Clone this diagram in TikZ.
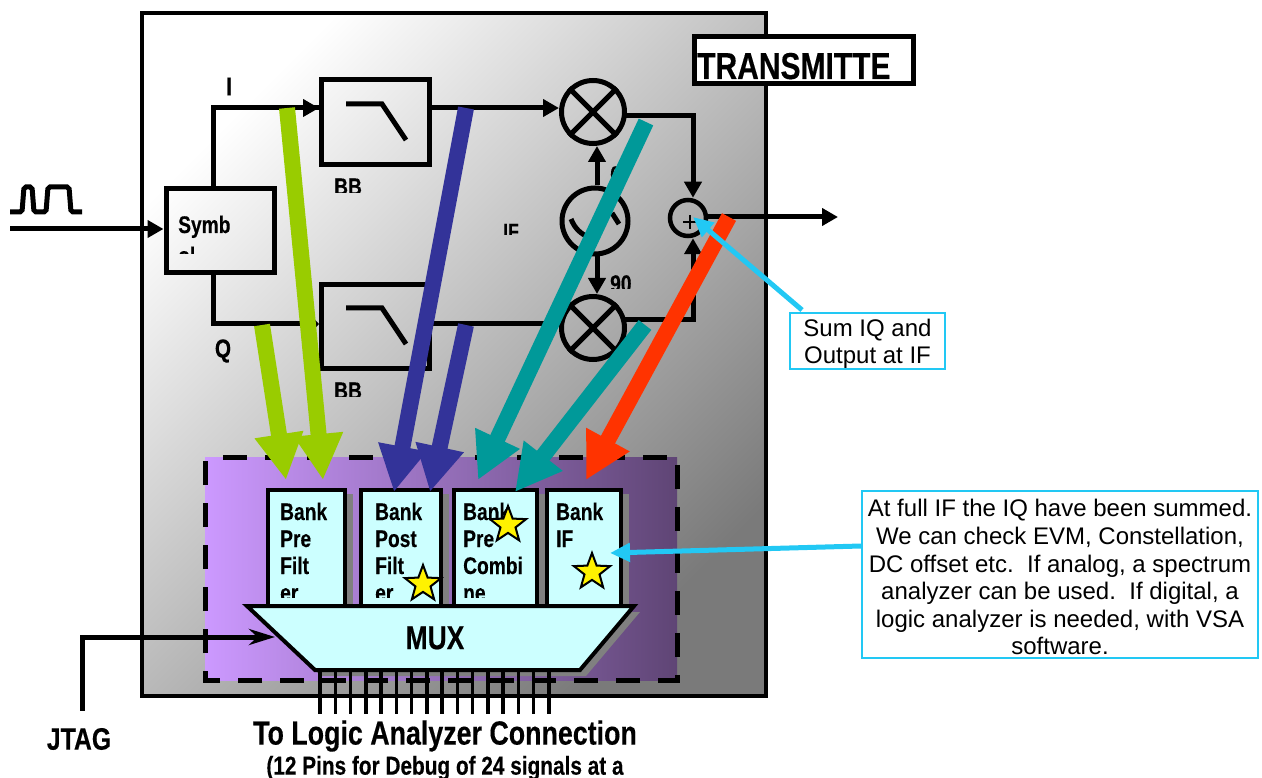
\documentclass[tikz,border=0pt]{standalone}
\usepackage{fontspec}
\setmainfont{Liberation Sans}
\newfontfamily\narrowfont[FakeStretch=0.8,FakeBold=0.3]{Liberation Sans Bold}
\usetikzlibrary{arrows.meta,shapes.geometric}
\newcommand{\labelsize}[1]{\fontsize{#1}{#1}\selectfont\narrowfont}
\tikzset{
wire/.style={line width=5pt},
wirearrow/.style={wire,-{Triangle[length=16pt,width=17pt]}},
blockbox/.style={draw,wire,inner sep=0pt},
mixer/.style={circle,draw,wire,inner sep=0pt,minimum size=63pt},
bankbox/.style={draw,line width=4pt,fill=bankcyan,inner sep=0pt,anchor=north west},
biglabel/.style={inner sep=0pt,font=\labelsize{26}},
banktext/.style={inner sep=0pt,anchor=base west,font=\labelsize{24}},
probe/.style={line width=16pt,-{Triangle[length=46pt,width=46pt]}},
note/.style={draw=notecyan,line width=2pt,fill=white,inner sep=0pt,align=center,font=\fontsize{24}{27.6}\selectfont},
notearrow/.style={color=notecyan,line width=5pt,-{Triangle[length=20pt,width=18pt]}},
goldstar/.style={star,star points=5,star point ratio=2.4,draw,line width=2pt,fill=yellow,inner sep=0pt,minimum size=38pt}
}
\definecolor{bankcyan}{HTML}{CCFFFF}
\definecolor{notecyan}{HTML}{22C8F4}
\definecolor{probegreen}{HTML}{99CC00}
\definecolor{probeblue}{HTML}{333399}
\definecolor{probeteal}{HTML}{009999}
\definecolor{probered}{HTML}{FF3300}
\definecolor{dutleft}{HTML}{CC99FF}
\definecolor{dutright}{HTML}{5F4575}
\begin{document}
\begin{tikzpicture}
[x=1pt,y=-1pt]
\useasboundingbox (0,0) rectangle (1262,778);

% outer block
\fill[left color=white,right color=black!52,shading angle=45] (142,13) rectangle (766,696);
\draw[line width=4pt] (142,13) rectangle (766,696);
\node[draw,line width=5pt,fill=white,minimum width=219pt,minimum height=47pt,inner sep=0pt] (title) at (804,60) {};
\node[inner sep=0pt,anchor=base west,font=\labelsize{37.5}] (titletext) at (697,79) {TRANSMITTE};

% signal path
\node[blockbox,minimum width=108pt,minimum height=84pt] (symbol) at (220,230.5) {};
\node[blockbox,minimum width=108pt,minimum height=85pt] (lpfi) at (375.5,122) {};
\node[blockbox,minimum width=108pt,minimum height=84pt] (lpfq) at (375.5,326.5) {};
\node[mixer] (mixi) at (593,112) {};
\node[mixer] (mixq) at (593,328) {};
\node[mixer,minimum size=66pt] (osc) at (595,221) {};
\node[circle,draw,line width=4.5pt,inner sep=0pt,minimum size=36pt] (sum) at (688,218) {};
\draw[wire] (mixi.45) -- (mixi.225);
\draw[wire] (mixi.135) -- (mixi.315);
\draw[wire] (mixq.45) -- (mixq.225);
\draw[wire] (mixq.135) -- (mixq.315);

\coordinate (in) at (10,229);
\coordinate (out) at (838,217);
\coordinate (iup) at (213,108);
\coordinate (qdown) at (213,324);
\coordinate (icorner) at (693,116);
\coordinate (qcorner) at (693,320);
\coordinate (oscaxis) at (597,221);

\draw[wirearrow] (in) -- (in -| symbol.west);
\draw[wire,line cap=rect] (symbol.north -| iup) -- (iup) -- (iup -| lpfi.west);
\draw[wirearrow] (iup) -- (iup -| lpfi.west);
\draw[wire,line cap=rect] (symbol.south -| qdown) -- (qdown);
\draw[wire,-{Triangle[length=5pt,width=10pt]}] (qdown) -- (qdown -| lpfq.west);
\draw[wirearrow] (lpfi.east |- iup) -- (iup -| mixi.west);
\draw[wire] (lpfq.east |- qdown) -- (qdown -| mixq.west);
\draw[wire,line cap=rect] (mixi.east |- icorner) -- (icorner);
\draw[wirearrow] (icorner) -- (icorner |- sum.north);
\draw[wire,line cap=rect] (mixq.east |- qcorner) -- (qcorner);
\draw[wirearrow] (qcorner) -- (qcorner |- sum.south);
\draw[wirearrow] (sum.east |- out) -- (out);
\draw[wirearrow] (osc.north -| oscaxis) -- (oscaxis |- mixi.south);
\draw[wirearrow] (osc.south -| oscaxis) -- (oscaxis |- mixq.north);

% filter and oscillator glyphs
\draw[wire] (346,104) -- (382,104) -- (406,140);
\draw[wire] (346,308) -- (382,308) -- (406,344);
\draw[wire] (571,219) .. controls (575,229) and (581,234) .. (590,238);
\draw[wire] (612,213) -- (619,224);
\draw[line width=2pt] (683,222) -- (697,222) (690,215) -- (690,229);
\draw[wire,rounded corners=2pt] (10,212) -- (22,212) -- (24,187) -- (32,187) -- (34,212) -- (46,212) -- (48,187) -- (69,187) -- (71,212) -- (82,212);

% labels, some of them cut off
\node[biglabel] (ilabel) at (229,86.5) {I};
\node[biglabel] (qlabel) at (223,351) {Q};
\begin{scope}
\clip (170,190) rectangle (270,254);
\node[banktext] (symb) at (178,233) {Symb};
\node[banktext] (ol) at (178,264) {ol};
\end{scope}
\begin{scope}
\clip (320,176) rectangle (380,193);
\node[banktext] (bbi) at (334,195) {BB};
\end{scope}
\begin{scope}
\clip (320,380) rectangle (380,396);
\node[banktext] (bbq) at (334,399) {BB};
\end{scope}
\begin{scope}
\clip (495,220) rectangle (530,235);
\node[banktext,font=\labelsize{22}] (iflabel) at (503,239) {IF};
\end{scope}
\begin{scope}
\clip (605,272) rectangle (640,289);
\node[banktext] (ninety) at (610,292) {90};
\end{scope}
\node[banktext] (zero) at (610,183) {0};

% debug block
\shade[left color=dutleft,right color=dutright] (205,457) rectangle (677,680);
\draw[line width=5pt,dash pattern=on 24pt off 18pt,dash phase=24pt] (205,457) -- (677,457) -- (677,680) -- (205,680) -- cycle;

\foreach \name/\xa/\wid in {bi/266/77,bq/359/80,bc/452/83,bf/545/74}{
\fill[black!50] (\xa+7,494) rectangle (\xa+\wid+10,610);
\node[bankbox,minimum width=\wid pt,minimum height=118pt] (\name) at (\xa,488) {};
}
\foreach \xt/\ya/\yb/\yc/\yd/\nm in {280/Bank/Pre/Filt/er/a,375/Bank/Post/Filt/er/b,463/Bank/Pre/Combi/ne/c}{
\node[banktext] (text\nm a) at (\xt,520) {\ya};
\node[banktext] (text\nm b) at (\xt,547) {\yb};
\node[banktext] (text\nm c) at (\xt,574) {\yc};
\begin{scope}
\clip (\xt-5,580) rectangle (\xt+60,597);
\node[banktext] (text\nm d) at (\xt,601) {\yd};
\end{scope}
}
\node[banktext] (textda) at (556,520) {Bank};
\node[banktext] (textdb) at (556,547) {IF};

% mux with pins
\fill[black!50] (253,612) -- (640,612) -- (586,676) -- (321,676) -- cycle;
\foreach \i in {0,...,15}{
\draw[line width=3.5pt] (320+15.25*\i,670) -- (320+15.25*\i,714);
}
\draw[line width=4pt,fill=bankcyan] (247,606) -- (634,606) -- (580,670) -- (315,670) -- cycle;
\node[inner sep=0pt,font=\labelsize{33}] (mux) at (435,638) {MUX};

% probe arrows
\coordinate (greena) at (287,108);
\coordinate (greenb) at (262,325);
\coordinate (bluea) at (466,108);
\coordinate (blueb) at (466,325);
\coordinate (teala) at (646,122);
\coordinate (tealb) at (645,325);
\coordinate (reda) at (729,217);
\draw[probe,color=probegreen] (greena) -- (323,480);
\draw[probe,color=probegreen] (greenb) -- (286,480);
\draw[probe,color=probeblue] (bluea) -- (394,492);
\draw[probe,color=probeblue] (blueb) -- (430,492);
\draw[probe,color=probeteal] (teala) -- (478,480);
\draw[probe,color=probeteal] (tealb) -- (515,492);
\draw[probe,color=probered] (reda) -- (586,480);

\node[goldstar] (stara) at (423,584) {};
\node[goldstar] (starb) at (508,525) {};
\node[goldstar] (starc) at (592,572) {};

% jtag
\coordinate (jtagend) at (82,708);
\coordinate (jtagcorner) at (82,637);
\coordinate (jtagtip) at (275,637);
\draw[wire,line cap=rect] (jtagend) -- (jtagcorner);
\draw[line width=5pt,-{Stealth[length=26pt,width=16pt]}] (jtagcorner) -- (jtagtip);
\node[biglabel,font=\labelsize{31}] (jtag) at (79,739) {JTAG};
\node[biglabel,font=\labelsize{33.5}] (analyzer) at (445,736) {To Logic Analyzer Connection};
\node[biglabel,font=\labelsize{26}] (pins) at (445,768) {(12 Pins for Debug of 24 signals at a};

% notes
\node[note,minimum width=155pt,minimum height=56pt] (sumnote) at (867.5,341) {\rule{0pt}{23pt}Sum IQ and\\Output at IF};
\node[note,minimum width=396pt,minimum height=167pt] (ifnote) at (1060,574.5) {\rule{0pt}{23pt}At full IF the IQ have been summed.\\We can check EVM, Constellation,\\DC offset etc.\ \ If analog, a spectrum\\analyzer can be used.\ \ If digital, a\\logic analyzer is needed, with VSA\\software.};
\draw[notearrow] (sumnote.north west) ++(13,-2) -- (693,217);
\draw[notearrow] (ifnote.west |- 0,546) -- (610,553);
\end{tikzpicture}
\end{document}
